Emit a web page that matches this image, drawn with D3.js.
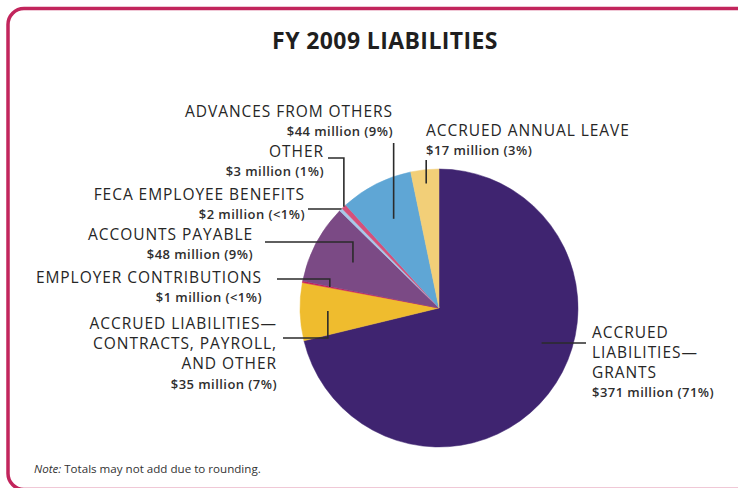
<!DOCTYPE html>
<html>
<head>
<meta charset="utf-8">
<script src="https://cdn.jsdelivr.net/npm/d3@7"></script>
<style>
  html, body { margin: 0; padding: 0; background: #ffffff; }
  svg { display: block; }
</style>
</head>
<body>
<svg id="chart" width="738" height="488"></svg>
<script>
// FY 2009 liabilities, in millions of dollars (clockwise from 12 o'clock)
const categories = [
  "ACCRUED LIABILITIES—GRANTS",
  "ACCRUED LIABILITIES—CONTRACTS, PAYROLL, AND OTHER",
  "EMPLOYER CONTRIBUTIONS",
  "ACCOUNTS PAYABLE",
  "FECA EMPLOYEE BENEFITS",
  "OTHER",
  "ADVANCES FROM OTHERS",
  "ACCRUED ANNUAL LEAVE"
];
const valuesMillions = [371, 35, 1, 48, 2, 3, 44, 17];
const percentLabels = ["71%", "7%", "<1%", "9%", "<1%", "1%", "9%", "3%"];
const nameLines = [
  ["ACCRUED", "LIABILITIES—", "GRANTS"],
  ["ACCRUED LIABILITIES—", "CONTRACTS, PAYROLL,", "AND OTHER"],
  ["EMPLOYER CONTRIBUTIONS"],
  ["ACCOUNTS PAYABLE"],
  ["FECA EMPLOYEE BENEFITS"],
  ["OTHER"],
  ["ADVANCES FROM OTHERS"],
  ["ACCRUED ANNUAL LEAVE"]
];
const sliceColors = ["#3f2470", "#efbc2e", "#c81c5c", "#7b4a85", "#a8c9e9", "#d6507a", "#5fa6d5", "#f2cf78"];

// Label placement: text anchor point, side, and how the leader reaches its slice
const labelLayout = [
  { x: 592, y: 338, anchor: "start", valueGap: 19, leader: "flat", ly: 343, lx: 586, k: 0.78 },
  { x: 277, y: 329, anchor: "end", valueGap: 20, leader: "elbow", ly: 338, lx: 283, k: 0.8 },
  { x: 262, y: 283, anchor: "end", valueGap: 18.5, leader: "elbow", ly: 279, lx: 277, k: 0.8 },
  { x: 253, y: 240, anchor: "end", valueGap: 18.5, leader: "elbow", ly: 242, lx: 265, k: 0.7 },
  { x: 305, y: 200, anchor: "end", valueGap: 18.5, leader: "elbow", ly: 209, lx: 308, k: 1.0 },
  { x: 324, y: 157, anchor: "end", valueGap: 18.5, leader: "elbow", ly: 158, lx: 328, k: 1.0 },
  { x: 393, y: 117, anchor: "end", valueGap: 18.5, leader: "down", ly: 143, k: 0.72 },
  { x: 426, y: 136, anchor: "start", valueGap: 18.5, leader: "down", ly: 160, k: 0.9 }
];

const svg = d3.select("#chart");
const W = 738, H = 488;
const cx = 439, cy = 308, R = 139;
const font = "'Open Sans', 'Noto Sans', sans-serif";

// Frame
svg.append("rect")
  .attr("x", 8).attr("y", 8.5)
  .attr("width", W + 20).attr("height", H - 7)
  .attr("rx", 16).attr("ry", 16)
  .attr("fill", "#ffffff")
  .attr("stroke", "#c2255c")
  .attr("stroke-width", 3.5);

// Title
svg.append("text")
  .attr("x", 385).attr("y", 49)
  .attr("text-anchor", "middle")
  .attr("font-family", font)
  .attr("font-weight", 700)
  .attr("font-size", 23)
  .attr("letter-spacing", 0.4)
  .attr("fill", "#1f1f1f")
  .text("FY 2009 LIABILITIES");

// Pie
const rows = categories.map((c, i) => ({
  name: c, value: valuesMillions[i], pct: percentLabels[i],
  lines: nameLines[i], color: sliceColors[i], layout: labelLayout[i]
}));
const pie = d3.pie().value(d => d.value).sort(null);
const arcs = pie(rows);
const arc = d3.arc().innerRadius(0).outerRadius(R);

const g = svg.append("g").attr("transform", `translate(${cx},${cy})`);
g.selectAll("path.slice")
  .data(arcs)
  .join("path")
  .attr("class", "slice")
  .attr("d", arc)
  .attr("fill", d => d.data.color)
  .attr("stroke", d => d.data.color)
  .attr("stroke-width", 0.5);

// Leader lines
const leaders = svg.append("g")
  .attr("fill", "none")
  .attr("stroke", "#2b2b2b")
  .attr("stroke-width", 1.6);

arcs.forEach(a => {
  const L = a.data.layout;
  const mid = (a.startAngle + a.endAngle) / 2;
  const kr = L.k * R;
  const px = cx + kr * Math.sin(mid);
  const py = cy - kr * Math.cos(mid);
  let pts;
  if (L.leader === "down") {
    pts = [[px, L.ly], [px, py]];
  } else if (L.leader === "elbow") {
    pts = [[L.lx, L.ly], [px, L.ly], [px, py]];
  } else {
    const dy = L.ly - cy;
    const side = Math.sin(mid) >= 0 ? 1 : -1;
    const fx = cx + side * Math.sqrt(Math.max(0, kr * kr - dy * dy));
    pts = [[L.lx, L.ly], [fx, L.ly]];
  }
  leaders.append("path").attr("d", d3.line()(pts));
});

// Labels: category name lines followed by the amount line, one text block each
const labels = svg.append("g").attr("font-family", font);
arcs.forEach(a => {
  const d = a.data, L = d.layout;
  const t = labels.append("text")
    .attr("text-anchor", L.anchor)
    .attr("fill", "#262626");
  d.lines.forEach((ln, j) => {
    t.append("tspan")
      .attr("x", L.x)
      .attr("y", L.y + j * 20)
      .attr("font-size", 15.5)
      .attr("letter-spacing", 0.95)
      .text(ln);
  });
  t.append("tspan")
    .attr("x", L.x)
    .attr("y", L.y + (d.lines.length - 1) * 20 + L.valueGap)
    .attr("font-size", 13)
    .attr("letter-spacing", 0.45)
    .attr("font-weight", 600)
    .attr("fill", "#2e2e2e")
    .text(`$${d.value} million (${d.pct})`);
});

// Footnote
const note = svg.append("text")
  .attr("x", 34).attr("y", 473)
  .attr("font-family", font)
  .attr("font-size", 11.6)
  .attr("fill", "#333333");
note.append("tspan").attr("font-style", "italic").text("Note:");
note.append("tspan").text(" Totals may not add due to rounding.");
</script>
</body>
</html>
